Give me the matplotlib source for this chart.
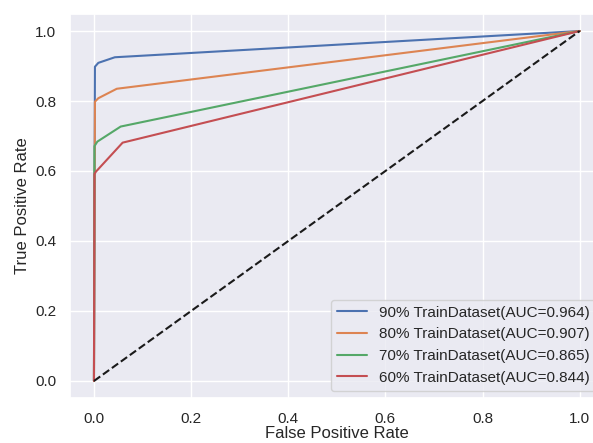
import matplotlib
matplotlib.use('Agg')
import matplotlib.pyplot as plt
import seaborn as sns

# ROC curve points
fpr_90 = [0.0, 0.002, 0.009, 0.043, 1.0]
tpr_90 = [0.0, 0.898, 0.909, 0.925, 1.0]
fpr_80 = [0.0, 0.002, 0.009, 0.047, 1.0]
tpr_80 = [0.0, 0.798, 0.808, 0.835, 1.0]
fpr_70 = [0.0, 0.001, 0.007, 0.055, 1.0]
tpr_70 = [0.0, 0.671, 0.684, 0.727, 1.0]
fpr_60 = [0.0, 0.001, 0.004, 0.059, 1.0]
tpr_60 = [0.0, 0.591, 0.598, 0.681, 1.0]
labels = ['90% TrainDataset(AUC=0.964)', '80% TrainDataset(AUC=0.907)',
          '70% TrainDataset(AUC=0.865)', '60% TrainDataset(AUC=0.844)']

sns.set_theme()
plt.rcParams['font.family'] = ['Liberation Sans', 'DejaVu Sans']

fig = plt.figure(figsize=(5.93, 4.43), dpi=100)
# the reference is cropped on the right, so the axes run past the figure edge
ax = fig.add_axes([0.1175, 0.1005, 0.901, 0.869])
ax.plot(fpr_90, tpr_90, label=labels[0])
ax.plot(fpr_80, tpr_80, label=labels[1])
ax.plot(fpr_70, tpr_70, label=labels[2])
ax.plot(fpr_60, tpr_60, label=labels[3])
ax.plot([0, 1], [0, 1], 'k--')
ax.set_xlabel('False Positive Rate', labelpad=0)
ax.set_ylabel('True Positive Rate')
ax.legend(loc='lower right')
fig.savefig('out.png')
